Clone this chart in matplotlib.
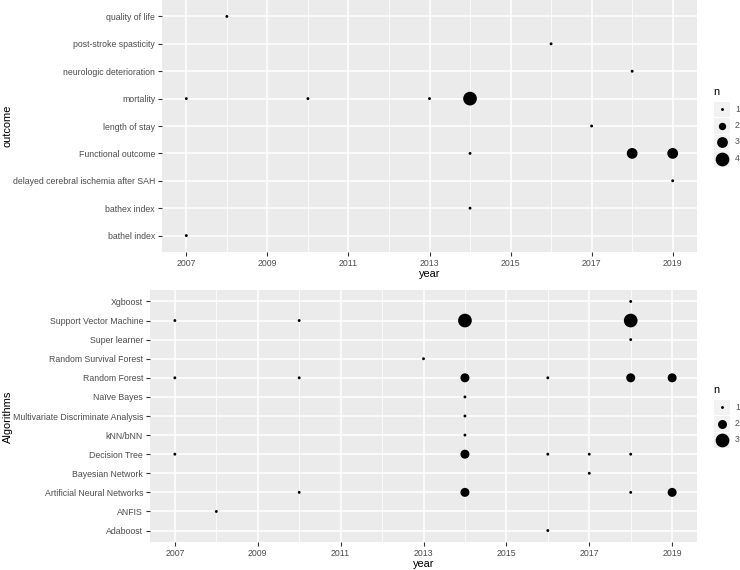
import matplotlib
matplotlib.use("Agg")
import matplotlib.pyplot as plt
import numpy as np
from matplotlib.patches import Rectangle

plt.rcParams['font.family'] = ['Liberation Sans', 'DejaVu Sans']

# ---------------- data ----------------
# outcome categories (bottom -> top)
outcome_levels = ["bathel index", "bathex index", "delayed cerebral ischemia after SAH",
                  "Functional outcome", "length of stay", "mortality",
                  "neurologic deterioration", "post-stroke spasticity", "quality of life"]
out_cat = ["quality of life", "post-stroke spasticity", "neurologic deterioration",
           "mortality", "mortality", "mortality", "mortality",
           "length of stay", "Functional outcome", "Functional outcome", "Functional outcome",
           "delayed cerebral ischemia after SAH", "bathex index", "bathel index"]
out_year = [2008, 2016, 2018, 2007, 2010, 2013, 2014, 2017, 2014, 2018, 2019, 2019, 2014, 2007]
out_n = [1, 1, 1, 1, 1, 1, 4, 1, 1, 3, 3, 1, 1, 1]

# algorithm categories (bottom -> top)
algo_levels = ["Adaboost", "ANFIS", "Artificial Neural Networks", "Bayesian Network",
               "Decision Tree", "kNN/bNN", "Multivariate Discriminate Analysis",
               "Naïve Bayes", "Random Forest", "Random Survival Forest",
               "Super learner", "Support Vector Machine", "Xgboost"]
alg_cat = ["Xgboost",
           "Support Vector Machine", "Support Vector Machine", "Support Vector Machine", "Support Vector Machine",
           "Super learner", "Random Survival Forest",
           "Random Forest", "Random Forest", "Random Forest", "Random Forest", "Random Forest", "Random Forest",
           "Naïve Bayes", "Multivariate Discriminate Analysis", "kNN/bNN",
           "Decision Tree", "Decision Tree", "Decision Tree", "Decision Tree", "Decision Tree",
           "Bayesian Network",
           "Artificial Neural Networks", "Artificial Neural Networks", "Artificial Neural Networks", "Artificial Neural Networks",
           "ANFIS", "Adaboost"]
alg_year = [2018,
            2007, 2010, 2014, 2018,
            2018, 2013,
            2007, 2010, 2014, 2016, 2018, 2019,
            2014, 2014, 2014,
            2007, 2014, 2016, 2017, 2018,
            2017,
            2010, 2014, 2018, 2019,
            2008, 2016]
alg_n = [1,
         1, 1, 3, 3,
         1, 1,
         1, 1, 2, 1, 2, 2,
         1, 1, 1,
         1, 2, 1, 1, 1,
         1,
         1, 2, 1, 2,
         1, 1]

x_ticks = [2007, 2009, 2011, 2013, 2015, 2017, 2019]
x_minor = [2008, 2010, 2012, 2014, 2016, 2018]

# ---------------- style ----------------
W, H = 740, 570
DPI = 100
PANEL = "#EBEBEB"
TXT = "#4D4D4D"
TICKC = "#333333"
PX_PER_GGPT = 0.76
TICK_FS = 6.3
TITLE_FS = 7.9


def ggsize_to_s(values, lo, hi):
    v = np.asarray(values, dtype=float)
    r = (np.sqrt(v) - np.sqrt(lo)) / (np.sqrt(hi) - np.sqrt(lo))
    size = 1 + 5 * r
    diam_px = PX_PER_GGPT * (size * 2.845 + 0.945)
    diam_pt = diam_px * 72.0 / DPI
    return diam_pt ** 2


def rect(x0, y0, x1, y1):
    return [x0 / W, 1 - y1 / H, (x1 - x0) / W, (y1 - y0) / H]


fig = plt.figure(figsize=(W / DPI, H / DPI), dpi=DPI)


def panel(box, levels, cats, years, ns, ylabel, ylab_y, lo, hi):
    ax = fig.add_axes(rect(*box))
    ax.set_facecolor(PANEL)
    for s in ax.spines.values():
        s.set_visible(False)
    ypos = [levels.index(c) for c in cats]
    ax.set_xlim(2006.4, 2019.6)
    ax.set_ylim(-0.6, len(levels) - 1 + 0.6)
    ax.set_xticks(x_ticks)
    ax.set_xticks(x_minor, minor=True)
    ax.set_yticks(range(len(levels)))
    ax.set_yticklabels(levels)
    ax.grid(True, which="major", color="white", lw=1.1)
    ax.grid(True, which="minor", axis="x", color="white", lw=0.55)
    ax.set_axisbelow(True)
    ax.tick_params(axis="both", which="major", length=3, width=0.8, color=TICKC,
                   labelcolor=TXT, labelsize=TICK_FS, pad=2)
    ax.tick_params(axis="both", which="minor", length=0)
    ax.scatter(years, ypos, s=ggsize_to_s(ns, lo, hi), c="black", linewidths=0, zorder=3)
    ax.set_xlabel("year", fontsize=TITLE_FS, color="black", labelpad=0.5)
    fig.text(7.5 / W, 1 - ylab_y / H, ylabel, rotation=90, fontsize=TITLE_FS,
             color="black", ha="center", va="center")
    return ax


ax1 = panel((162, 0, 697, 252), outcome_levels, out_cat, out_year, out_n, "outcome", 126, 1, 4)
ax2 = panel((150, 290, 697, 542), algo_levels, alg_cat, alg_year, alg_n, "Algorithms", 417, 1, 3)

# ---------------- legends ----------------
lax = fig.add_axes([0, 0, 1, 1])
lax.set_xlim(0, W)
lax.set_ylim(H, 0)
lax.axis("off")


def legend(title_y, key_ys, values, lo, hi):
    lax.text(713, title_y, "n", fontsize=TITLE_FS, color="black", va="center", ha="left")
    sizes = ggsize_to_s(values, lo, hi)
    for ky, v, s in zip(key_ys, values, sizes):
        lax.add_patch(Rectangle((713, ky - 8.3), 17, 16.6, facecolor="#F2F2F2",
                                edgecolor="white", lw=0.8))
        lax.scatter([721.5], [ky], s=s, c="black", linewidths=0, zorder=3)
        lax.text(735, ky, str(v), fontsize=TICK_FS, color=TXT, va="center", ha="left")


legend(92, [109, 125.5, 142, 158.5], [1, 2, 3, 4], 1, 4)
legend(390, [407, 423.5, 440], [1, 2, 3], 1, 3)

fig.savefig("out.png", dpi=DPI)
